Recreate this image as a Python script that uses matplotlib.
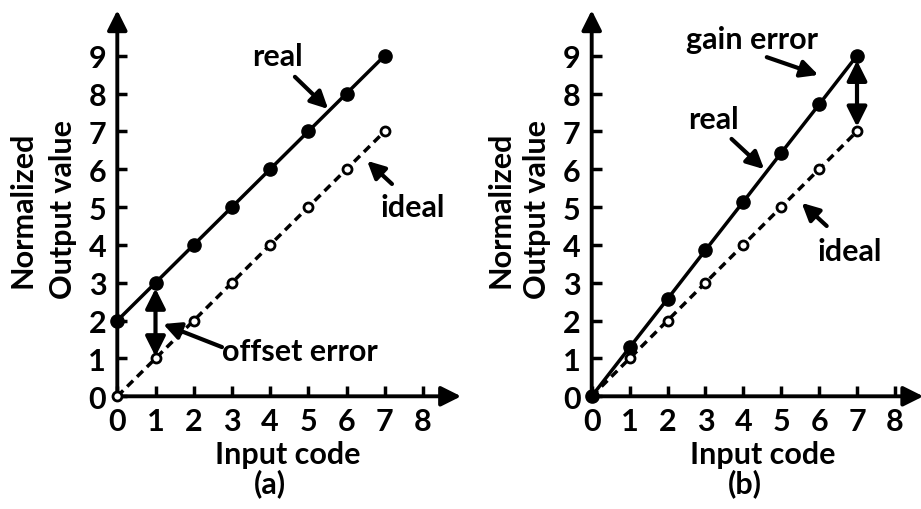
import matplotlib
matplotlib.use("Agg")
import matplotlib.pyplot as plt
import numpy as np

plt.rcParams['font.family'] = ['Lato', 'DejaVu Sans']
plt.rcParams['font.weight'] = 'bold'

# Data
codes = [0, 1, 2, 3, 4, 5, 6, 7]
ideal = [0, 1, 2, 3, 4, 5, 6, 7]
real_offset = [2, 3, 4, 5, 6, 7, 8, 9]
real_gain = [0, 1.29, 2.57, 3.86, 5.14, 6.43, 7.71, 9]
x_ticks = [0, 1, 2, 3, 4, 5, 6, 7, 8]
y_ticks = [0, 1, 2, 3, 4, 5, 6, 7, 8, 9]

W, H = 921, 510
fig = plt.figure(figsize=(W / 100, H / 100), dpi=100)

FS = 22
LW = 2.5


def px_axes(left, bottom_px, unit_x, unit_y, xmax, ymax):
    # axes placed so that the data origin lands on (left, bottom_px) in pixels
    ax = fig.add_axes([left / W, 1 - bottom_px / H,
                       xmax * unit_x / W, ymax * unit_y / H])
    ax.set_xlim(0, xmax)
    ax.set_ylim(0, ymax)
    for s in ax.spines.values():
        s.set_visible(False)
    ax.set_xticks(x_ticks)
    ax.set_yticks(y_ticks)
    ax.set_xticklabels([str(t) for t in x_ticks], fontsize=FS, fontweight='bold')
    ax.set_yticklabels([str(t) for t in y_ticks], fontsize=FS, fontweight='bold')
    ax.tick_params(axis='both', direction='in', length=7.5, width=LW)
    ax.tick_params(axis='x', pad=8)
    ax.tick_params(axis='y', pad=8)
    ax.patch.set_alpha(0)
    # axis arrows
    ax.annotate('', xy=(xmax, 0), xytext=(0, 0), annotation_clip=False,
                arrowprops=dict(arrowstyle='-|>', lw=LW + 0.3, color='k',
                                mutation_scale=30, shrinkA=0, shrinkB=0))
    ax.annotate('', xy=(0, ymax), xytext=(0, 0), annotation_clip=False,
                arrowprops=dict(arrowstyle='-|>', lw=LW + 0.3, color='k',
                                mutation_scale=30, shrinkA=0, shrinkB=0))
    return ax


def series(ax, real):
    ax.plot(codes, ideal, linestyle=(0, (2.4, 1.6)), color='k', lw=LW,
            marker='o', markersize=6.5, markerfacecolor='white',
            markeredgecolor='k', markeredgewidth=2, clip_on=False, zorder=3)
    ax.plot(codes, real, linestyle='-', color='k', lw=LW,
            marker='o', markersize=9.5, markerfacecolor='k',
            markeredgecolor='k', clip_on=False, zorder=4)


def pointer(ax, text, txy, start, tip):
    ax.text(txy[0], txy[1], text, fontsize=FS, fontweight='bold',
            ha='center', va='center')
    ax.annotate('', xy=tip, xytext=start, annotation_clip=False,
                arrowprops=dict(arrowstyle='-|>', lw=LW + 0.5, color='k',
                                mutation_scale=26, shrinkA=0, shrinkB=0))


def double_arrow(ax, x, y0, y1):
    ax.annotate('', xy=(x, y1), xytext=(x, y0), annotation_clip=False,
                arrowprops=dict(arrowstyle='<|-|>', lw=LW + 0.5, color='k',
                                mutation_scale=30, shrinkA=0, shrinkB=0))


# (a) offset error
ax_a = px_axes(117.3, 397.3, 38.2, 37.85, 9.0, 10.2)
series(ax_a, real_offset)
double_arrow(ax_a, 1, 2.85, 1.05)
pointer(ax_a, 'real', (4.20, 8.99), (4.65, 8.44), (5.52, 7.59))
pointer(ax_a, 'ideal', (7.74, 5.0), (7.19, 5.61), (6.54, 6.22))
pointer(ax_a, 'offset error', (4.78, 1.20), (2.74, 1.30), (1.20, 1.91))

# (b) gain error
ax_b = px_axes(591.7, 397.3, 37.9, 37.85, 8.75, 10.2)
series(ax_b, real_gain)
double_arrow(ax_b, 7, 8.87, 7.12)
pointer(ax_b, 'gain error', (4.22, 9.44), (4.62, 8.96), (5.98, 8.49))
pointer(ax_b, 'real', (3.21, 7.32), (3.69, 6.80), (4.55, 6.0))
pointer(ax_b, 'ideal', (6.82, 3.83), (6.20, 4.50), (5.54, 5.11))


def ftext(x, y, s, **kw):
    fig.text(x / W, 1 - y / H, s, fontsize=FS, fontweight='bold',
             ha='center', va='center', **kw)


ftext(23, 210, 'Normalized', rotation=90)
ftext(63, 210, 'Output value', rotation=90)
ftext(500, 210, 'Normalized', rotation=90)
ftext(537, 210, 'Output value', rotation=90)
ftext(288, 455, 'Input code')
ftext(763, 455, 'Input code')
ftext(270, 484, '(a)')
ftext(745, 484, '(b)')

fig.savefig('out.png', dpi=100)
